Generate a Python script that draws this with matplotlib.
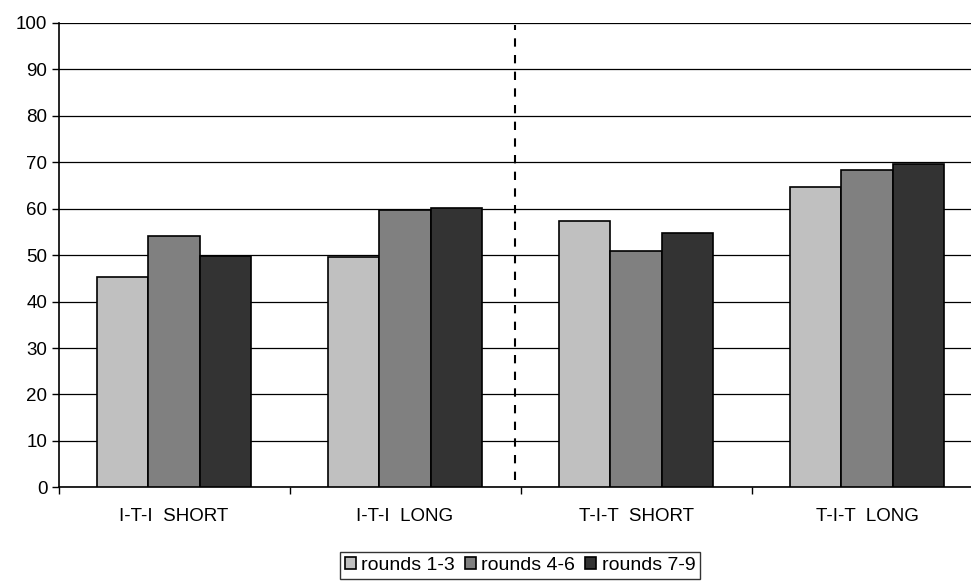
import matplotlib.pyplot as plt
import numpy as np

plt.rcParams['font.family'] = ['Liberation Sans', 'DejaVu Sans']

categories = ['I-T-I  SHORT', 'I-T-I  LONG', 'T-I-T  SHORT', 'T-I-T  LONG']
series = ['rounds 1-3', 'rounds 4-6', 'rounds 7-9']
r13 = [45.3, 49.6, 57.4, 64.7]
r46 = [54.1, 59.8, 50.9, 68.3]
r79 = [49.8, 60.1, 54.8, 69.5]
colors = ['#c0c0c0', '#808080', '#333333']

fig = plt.figure(figsize=(9.71, 5.81), dpi=100)
ax = fig.add_axes([58.5 / 971, 0.161, 924 / 971, 0.8])

x = np.arange(len(categories))
w = 1 / 4.5
for i, (vals, c, lab) in enumerate(zip([r13, r46, r79], colors, series)):
    ax.bar(x + (i - 1) * w, vals, w, color=c, edgecolor='black', linewidth=1.2,
           label=lab, zorder=3)

ax.set_xlim(-0.5, 3.5)
ax.set_ylim(0, 100)
ax.set_yticks(range(0, 101, 10))
ax.yaxis.grid(True, color='black', linewidth=0.9, zorder=0)
ax.set_axisbelow(True)

ax.set_xticks(x)
ax.set_xticklabels(categories, fontsize=13.5)
ax.set_xticks(np.arange(-0.5, 4, 1), minor=True)
ax.tick_params(axis='x', which='major', length=0, pad=15)
ax.tick_params(axis='x', which='minor', length=5, width=1, direction='out')
ax.tick_params(axis='y', length=5, width=1, labelsize=13.5, pad=3)

for s in ['top', 'right']:
    ax.spines[s].set_visible(False)
ax.spines['left'].set_linewidth(1.2)
ax.spines['bottom'].set_linewidth(1.2)

# dashed separator between I-T-I and T-I-T conditions
ax.plot([1.475, 1.475], [1.5, 99.5], color='black', linestyle=(0, (4, 4)),
        linewidth=1.5, zorder=4)

leg = fig.legend(loc='lower center', bbox_to_anchor=(520 / 971, 0.004), ncol=3,
                 fontsize=14, frameon=True, fancybox=False, edgecolor='black',
                 handlelength=0.55, handleheight=0.55, handletextpad=0.3,
                 columnspacing=0.5, borderpad=0.25, borderaxespad=0)
leg.get_frame().set_linewidth(1)

fig.savefig('out.png', dpi=100)
